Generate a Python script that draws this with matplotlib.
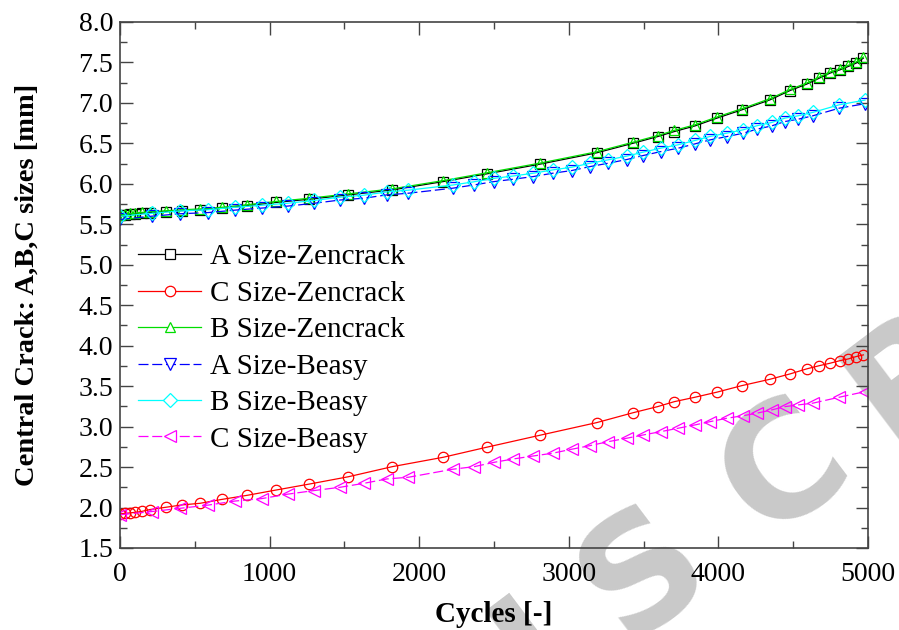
import matplotlib
matplotlib.use("Agg")
import matplotlib.pyplot as plt
from matplotlib.ticker import MultipleLocator

plt.rcParams['font.family'] = ['Liberation Serif', 'DejaVu Serif']

# ---- data ----
zen_cycles = [0, 35, 65, 100, 145, 200, 306, 413, 535, 680, 851, 1043, 1266, 1526,
              1820, 2161, 2451, 2807, 3186, 3431, 3594, 3705, 3844, 3989, 4156,
              4345, 4479, 4590, 4675, 4746, 4813, 4868, 4920, 4969]
a_zen = [5.61, 5.616, 5.625, 5.628, 5.637, 5.645, 5.657, 5.669, 5.678, 5.699, 5.73,
         5.77, 5.81, 5.863, 5.925, 6.028, 6.123, 6.243, 6.383, 6.502, 6.584, 6.646,
         6.716, 6.811, 6.914, 7.038, 7.153, 7.232, 7.306, 7.368, 7.409, 7.45, 7.491, 7.553]
b_zen = [5.62, 5.626, 5.634, 5.638, 5.646, 5.655, 5.667, 5.679, 5.69, 5.71, 5.742,
         5.782, 5.822, 5.876, 5.938, 6.04, 6.136, 6.256, 6.396, 6.515, 6.597, 6.66,
         6.73, 6.825, 6.928, 7.052, 7.166, 7.246, 7.32, 7.382, 7.423, 7.464, 7.505, 7.567]
c_zen = [1.92, 1.929, 1.933, 1.94, 1.952, 1.975, 2.003, 2.032, 2.052, 2.10, 2.151,
         2.216, 2.29, 2.38, 2.505, 2.621, 2.745, 2.893, 3.049, 3.172, 3.247, 3.308,
         3.363, 3.425, 3.506, 3.585, 3.651, 3.713, 3.753, 3.783, 3.815, 3.836, 3.865, 3.886]

beasy_cycles = [0, 212, 401, 590, 769, 947, 1121, 1299, 1471, 1633, 1783, 1928,
                2224, 2368, 2502, 2629, 2763, 2892, 3019, 3142, 3264, 3387, 3498,
                3616, 3732, 3844, 3944, 4056, 4167, 4256, 4356, 4445, 4534, 4630,
                4808, 4980]
a_beasy = [5.56, 5.60, 5.63, 5.645, 5.675, 5.70, 5.725, 5.76, 5.80, 5.823, 5.863,
           5.884, 5.946, 5.987, 6.028, 6.057, 6.09, 6.131, 6.164, 6.213, 6.255, 6.30,
           6.35, 6.399, 6.441, 6.494, 6.543, 6.584, 6.626, 6.675, 6.716, 6.77, 6.799,
           6.84, 6.935, 6.99]
b_beasy = [5.60, 5.635, 5.665, 5.68, 5.71, 5.735, 5.76, 5.795, 5.835, 5.86, 5.90,
           5.922, 5.985, 6.026, 6.068, 6.097, 6.131, 6.172, 6.205, 6.254, 6.297, 6.342,
           6.392, 6.441, 6.483, 6.536, 6.585, 6.626, 6.668, 6.717, 6.758, 6.812, 6.841,
           6.882, 6.977, 7.035]
c_beasy = [1.91, 1.95, 1.99, 2.03, 2.08, 2.11, 2.165, 2.21, 2.25, 2.30, 2.353, 2.374,
           2.473, 2.505, 2.559, 2.60, 2.637, 2.671, 2.72, 2.765, 2.814, 2.856, 2.897,
           2.938, 2.98, 3.021, 3.061, 3.103, 3.135, 3.165, 3.206, 3.247, 3.268, 3.289,
           3.363, 3.432]

labels = ['A Size-Zencrack', 'C Size-Zencrack', 'B Size-Zencrack',
          'A Size-Beasy', 'B Size-Beasy', 'C Size-Beasy']

# watermark letters and their pixel centres (from top-left)
wm_letters = ['U', 'S', 'C', 'R']
wm_px = [(510, 672), (645, 574), (785, 470), (915, 378)]

fig = plt.figure(figsize=(8.99, 6.30), dpi=100)
ax = fig.add_axes([0.1335, 0.1302, 0.832, 0.8349])
ax.set_facecolor('none')

for ch, (px, py) in zip(wm_letters, wm_px):
    fig.text(px / 899, 1 - py / 630, ch, rotation=37, ha='center', va='center',
             rotation_mode='anchor', fontsize=114, fontweight='bold', color='#c9c9c9',
             family='DejaVu Sans', zorder=-5)

lw = 0.9
ax.plot(zen_cycles, a_zen, color='black', marker='s', ms=6.5, mfc='none', mew=0.9,
        lw=lw, label=labels[0])
ax.plot(zen_cycles, c_zen, color='red', marker='o', ms=7.5, mfc='none', mew=0.9,
        lw=lw, label=labels[1])
ax.plot(zen_cycles, b_zen, color='#00dd00', marker='^', ms=7, mfc='none', mew=0.9,
        lw=lw, label=labels[2])
ax.plot(beasy_cycles, a_beasy, color='blue', marker='v', ms=8, mfc='none', mew=0.9,
        lw=lw, ls=(0, (8, 3)), label=labels[3])
ax.plot(beasy_cycles, b_beasy, color='cyan', marker='D', ms=7, mfc='none', mew=0.9,
        lw=lw, label=labels[4])
ax.plot(beasy_cycles, c_beasy, color='magenta', marker='<', ms=8, mfc='none', mew=0.9,
        lw=lw, ls=(0, (8, 3)), label=labels[5])

ax.set_xlim(0, 5000)
ax.set_ylim(1.5, 8.0)
ax.xaxis.set_major_locator(MultipleLocator(1000))
ax.xaxis.set_minor_locator(MultipleLocator(500))
ax.yaxis.set_major_locator(MultipleLocator(0.5))
ax.yaxis.set_minor_locator(MultipleLocator(0.25))
ax.yaxis.set_major_formatter(matplotlib.ticker.FormatStrFormatter('%.1f'))
ax.tick_params(which='both', direction='in', top=True, right=True,
               color='#444444', width=1.0)
ax.tick_params(which='major', length=9, labelsize=20, pad=5)
ax.tick_params(axis='x', which='major', pad=10)
ax.tick_params(which='minor', length=5)
for s in ax.spines.values():
    s.set_color('#444444')
    s.set_linewidth(1.2)

ax.set_xlabel('Cycles [-]', fontsize=21, fontweight='bold', labelpad=10)
ax.set_ylabel('Central Crack: A,B,C sizes [mm]', fontsize=20.5, fontweight='bold',
              labelpad=28)

leg = ax.legend(loc='upper left', bbox_to_anchor=(-0.003, 0.617), frameon=False,
                fontsize=21, handlelength=2.15, handletextpad=0.3, labelspacing=0.345,
                borderaxespad=0.3)
for ln in leg.get_lines():
    ln.set_markerfacecolor('white')

fig.savefig('out.png', dpi=100)
